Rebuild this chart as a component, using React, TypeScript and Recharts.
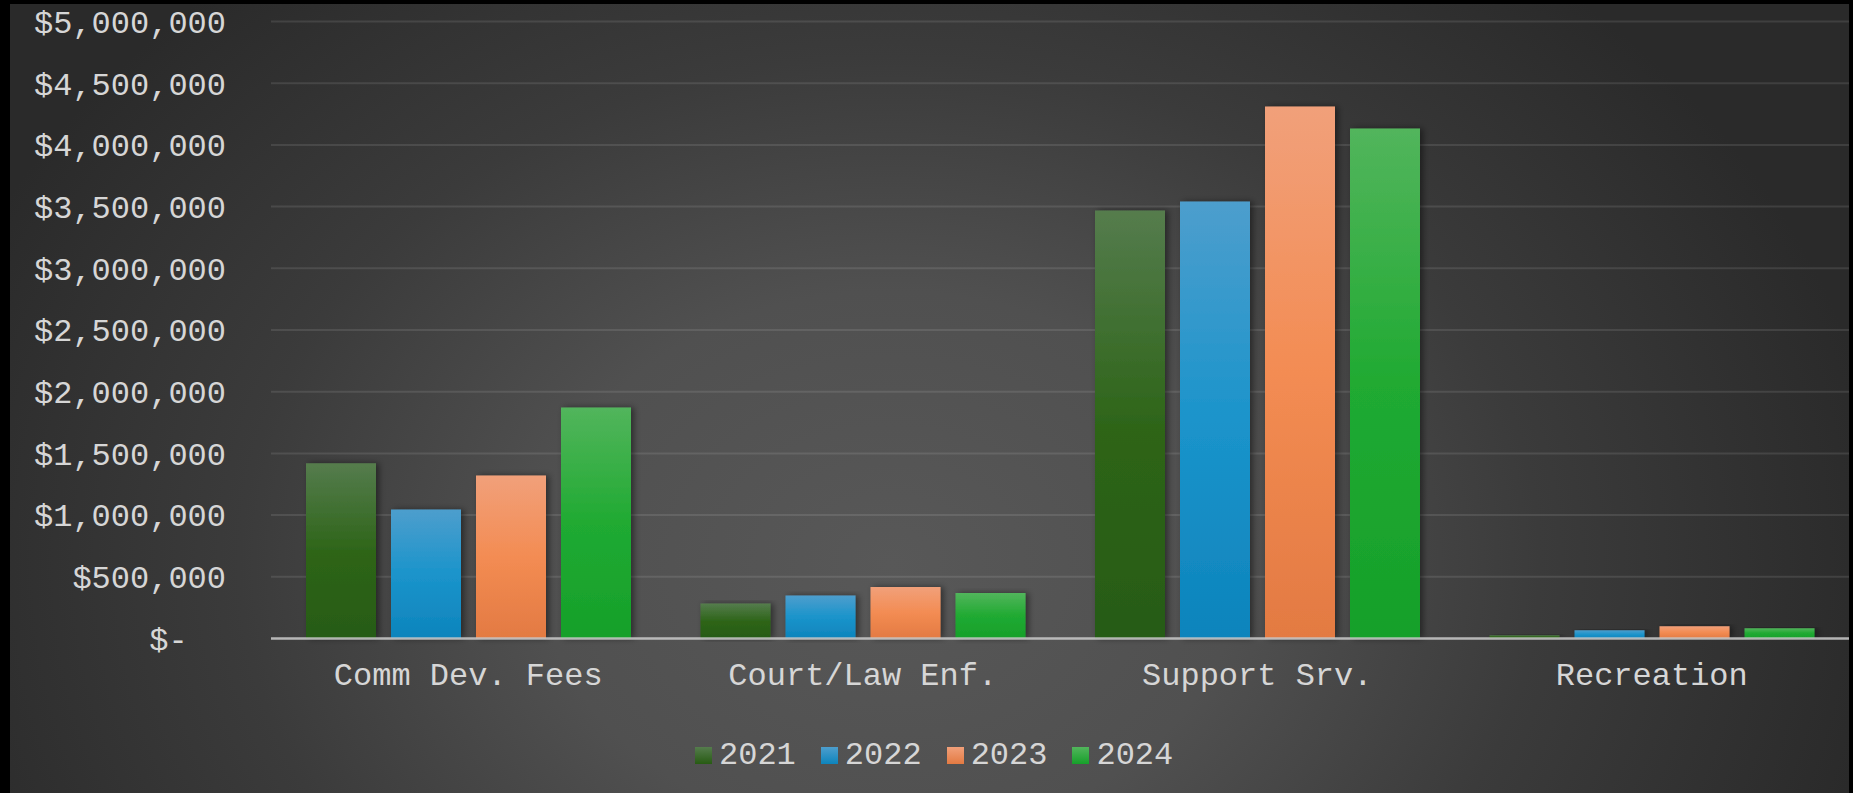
import React from "react";
import { BarChart, Bar, XAxis, YAxis, CartesianGrid, Legend } from "recharts";

const categories = ["Comm Dev. Fees", "Court/Law Enf.", "Support Srv.", "Recreation"];
const years = ["2021", "2022", "2023", "2024"];
const values2021 = [1420000, 283000, 3468000, 27000];
const values2022 = [1045000, 349000, 3541000, 67000];
const values2023 = [1320000, 417000, 4311000, 100000];
const values2024 = [1872000, 369000, 4133000, 84000];
const yTicks = [0, 500000, 1000000, 1500000, 2000000, 2500000, 3000000, 3500000, 4000000, 4500000, 5000000];

const seriesValues = [values2021, values2022, values2023, values2024];
const gradients = [
  ["#557c4d", "#2e6519", "#275b12"],
  ["#4d9ecd", "#1b94cb", "#0d84bc"],
  ["#f1a07a", "#f38c53", "#e37a42"],
  ["#52b55c", "#20aa32", "#16a02a"],
];

const data = categories.map((name, i) => {
  const row: Record<string, string | number> = { name };
  years.forEach((y, s) => {
    row["y" + y] = seriesValues[s][i];
  });
  return row;
});

const FONT = "'Courier New', 'Liberation Mono', monospace";
const TEXT = "#d6d6d6";

const fmt = (v: number) =>
  v === 0 ? "$-\u00a0\u00a0" : "$" + v.toLocaleString("en-US");

const LegendContent = () => (
  <div
    style={{
      height: 40,
      display: "flex",
      alignItems: "baseline",
      paddingLeft: 695,
      paddingTop: 3,
      boxSizing: "border-box",
      fontFamily: FONT,
      fontSize: 32,
      lineHeight: "40px",
      color: TEXT,
      whiteSpace: "nowrap",
    }}
  >
    {years.map((y, i) => (
      <span key={y} style={{ display: "inline-flex", alignItems: "baseline", marginRight: 25 }}>
        <span
          style={{
            display: "inline-block",
            width: 17,
            height: 17,
            marginRight: 7,
            background: `linear-gradient(${gradients[i][0]}, ${gradients[i][2]})`,
          }}
        />
        <span>{y}</span>
      </span>
    ))}
  </div>
);

export default function App() {
  return (
    <div style={{ position: "absolute", left: 0, top: 0, width: 1853, height: 793, background: "#000", overflow: "hidden" }}>
      <div
        style={{
          position: "absolute",
          left: 10,
          top: 4,
          width: 1839,
          height: 789,
          background:
            "radial-gradient(ellipse 1000px 780px at 880px 560px, #585858 0%, #505050 35%, #3b3b3b 65%, #2a2a2a 100%)",
        }}
      />
      <div style={{ position: "absolute", left: 0, top: 0 }}>
        <BarChart
          width={1853}
          height={793}
          data={data}
          margin={{ top: 21.5, right: 4, left: 0, bottom: 20 }}
          barSize={70}
          barGap={15}
        >
          <defs>
            {gradients.map((g, i) => (
              <linearGradient key={i} id={"grad" + i} x1="0" y1="0" x2="0" y2="1">
                <stop offset="0%" stopColor={g[0]} />
                <stop offset="50%" stopColor={g[1]} />
                <stop offset="100%" stopColor={g[2]} />
              </linearGradient>
            ))}
            <filter id="barShadow" x="-20%" y="-10%" width="140%" height="120%">
              <feDropShadow dx="3" dy="0" stdDeviation="3" floodColor="#000" floodOpacity="0.45" />
            </filter>
          </defs>
          <CartesianGrid horizontal vertical={false} stroke="rgba(255,255,255,0.1)" strokeWidth={2} />
          <XAxis
            dataKey="name"
            interval={0}
            tickLine={false}
            axisLine={{ stroke: "rgba(200,200,200,0.85)", strokeWidth: 2.5 }}
            tickSize={0}
            tickMargin={24}
            height={94.5}
            tick={{ fill: TEXT, fontSize: 32, fontFamily: FONT }}
          />
          <YAxis
            domain={[0, 5000000]}
            ticks={yTicks}
            interval={0}
            width={271}
            axisLine={false}
            tickLine={false}
            tickSize={0}
            tickMargin={45}
            tickFormatter={fmt}
            tick={{ fill: TEXT, fontSize: 32, fontFamily: FONT }}
          />
          <Legend verticalAlign="bottom" height={40} content={() => <LegendContent />} />
          {years.map((y, i) => (
            <Bar
              key={y}
              dataKey={"y" + y}
              name={y}
              fill={`url(#grad${i})`}
              filter="url(#barShadow)"
              isAnimationActive={false}
            />
          ))}
        </BarChart>
      </div>
    </div>
  );
}
